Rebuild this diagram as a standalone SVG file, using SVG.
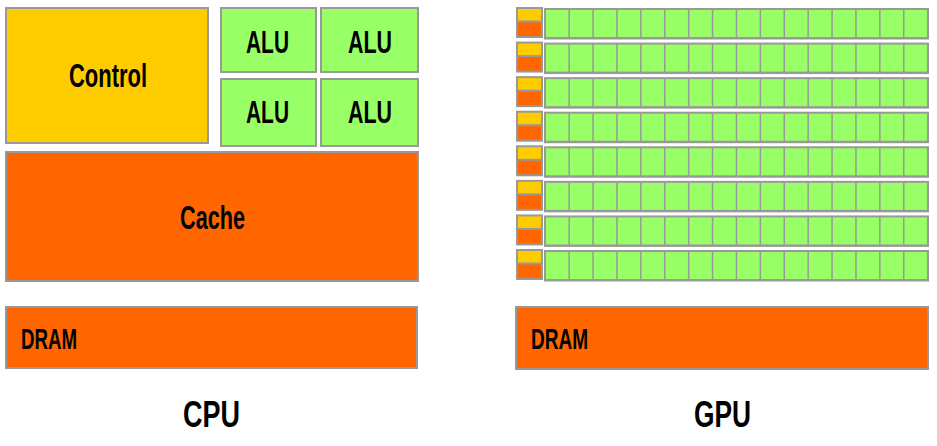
<svg xmlns="http://www.w3.org/2000/svg" xmlns:xlink="http://www.w3.org/1999/xlink" width="937" height="446" viewBox="0 0 937 446">
<style>
.box{stroke:#999999;stroke-width:2}
.yel{fill:#FFCC00}
.ora{fill:#FF6600}
.grn{fill:#99FF66}
.gry{fill:#999999}
.lbl{font-family:"Liberation Sans",Arial,sans-serif;font-weight:bold;fill:#000000}
</style>
<defs>
<g id="gpuRow">
<rect class="gry" x="516" y="0" width="27" height="31"/>
<rect class="yel" x="518" y="2" width="23" height="11.5"/>
<rect class="ora" x="518" y="15.5" width="23" height="13.5"/>
<rect class="gry" x="544" y="1" width="385" height="31.5"/>
<rect class="grn" x="546" y="3" width="22.4" height="27"/>
<rect class="grn" x="569.9" y="3" width="22.4" height="27"/>
<rect class="grn" x="593.8" y="3" width="22.4" height="27"/>
<rect class="grn" x="617.7" y="3" width="22.4" height="27"/>
<rect class="grn" x="641.6" y="3" width="22.4" height="27"/>
<rect class="grn" x="665.5" y="3" width="22.4" height="27"/>
<rect class="grn" x="689.4" y="3" width="22.4" height="27"/>
<rect class="grn" x="713.3" y="3" width="22.4" height="27"/>
<rect class="grn" x="737.2" y="3" width="22.4" height="27"/>
<rect class="grn" x="761.1" y="3" width="22.4" height="27"/>
<rect class="grn" x="785" y="3" width="22.4" height="27"/>
<rect class="grn" x="808.9" y="3" width="22.4" height="27"/>
<rect class="grn" x="832.8" y="3" width="22.4" height="27"/>
<rect class="grn" x="856.7" y="3" width="22.4" height="27"/>
<rect class="grn" x="880.6" y="3" width="22.4" height="27"/>
<rect class="grn" x="904.5" y="3" width="22.4" height="27"/>
</g>
</defs>
<rect x="0" y="0" width="937" height="446" fill="#FFFFFF"/>
<g id="cpu">
<g id="control"><rect class="box yel" x="6" y="8" width="202" height="135"/><text class="lbl" x="69" y="87" font-size="33" textLength="78" lengthAdjust="spacingAndGlyphs">Control</text></g>
<g id="alu1"><rect class="box grn" x="221" y="8" width="95" height="64"/><text class="lbl" x="246" y="53" font-size="31" textLength="43" lengthAdjust="spacingAndGlyphs">ALU</text></g>
<g id="alu2"><rect class="box grn" x="321" y="8" width="97" height="64"/><text class="lbl" x="348" y="53" font-size="31" textLength="44" lengthAdjust="spacingAndGlyphs">ALU</text></g>
<g id="alu3"><rect class="box grn" x="221" y="79" width="95" height="67"/><text class="lbl" x="246" y="123" font-size="31" textLength="43" lengthAdjust="spacingAndGlyphs">ALU</text></g>
<g id="alu4"><rect class="box grn" x="321" y="79" width="97" height="67"/><text class="lbl" x="348" y="123" font-size="31" textLength="44" lengthAdjust="spacingAndGlyphs">ALU</text></g>
<g id="cache"><rect class="box ora" x="6" y="152" width="412" height="129"/><text class="lbl" x="180" y="229" font-size="33" textLength="65" lengthAdjust="spacingAndGlyphs">Cache</text></g>
<g id="cpuDram"><rect class="box ora" x="6" y="307" width="411" height="61"/><text class="lbl" x="21" y="349" font-size="29" textLength="56" lengthAdjust="spacingAndGlyphs">DRAM</text></g>
<g id="cpuLabel"><text class="lbl" x="183" y="427" font-size="37" textLength="57" lengthAdjust="spacingAndGlyphs">CPU</text></g>
</g>
<g id="gpu">
<g id="gpuRow1"><use xlink:href="#gpuRow" href="#gpuRow" transform="translate(0,7)"/></g>
<g id="gpuRow2"><use xlink:href="#gpuRow" href="#gpuRow" transform="translate(0,41.57)"/></g>
<g id="gpuRow3"><use xlink:href="#gpuRow" href="#gpuRow" transform="translate(0,76.14)"/></g>
<g id="gpuRow4"><use xlink:href="#gpuRow" href="#gpuRow" transform="translate(0,110.71)"/></g>
<g id="gpuRow5"><use xlink:href="#gpuRow" href="#gpuRow" transform="translate(0,145.28)"/></g>
<g id="gpuRow6"><use xlink:href="#gpuRow" href="#gpuRow" transform="translate(0,179.85)"/></g>
<g id="gpuRow7"><use xlink:href="#gpuRow" href="#gpuRow" transform="translate(0,214.42)"/></g>
<g id="gpuRow8"><use xlink:href="#gpuRow" href="#gpuRow" transform="translate(0,249)"/></g>
<g id="gpuDram"><rect class="box ora" x="516" y="307" width="412" height="62"/><text class="lbl" x="531" y="349" font-size="29" textLength="57" lengthAdjust="spacingAndGlyphs">DRAM</text></g>
<g id="gpuLabel"><text class="lbl" x="694" y="427" font-size="37" textLength="57" lengthAdjust="spacingAndGlyphs">GPU</text></g>
</g>
<g id="connectors"/>
</svg>
